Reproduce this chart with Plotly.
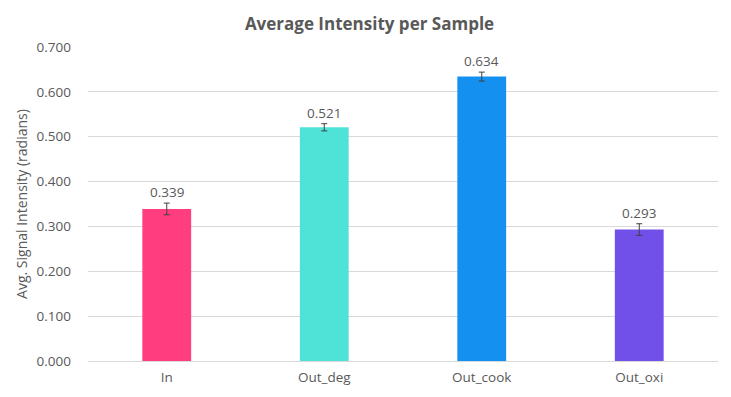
import plotly.graph_objects as go

categories = ["In", "Out_deg", "Out_cook", "Out_oxi"]
values = [0.339, 0.521, 0.634, 0.293]
errors = [0.013, 0.008, 0.010, 0.013]
colors = ["#FF3D7F", "#4FE3D8", "#1390F0", "#7050E8"]
tick_vals = [0, 0.1, 0.2, 0.3, 0.4, 0.5, 0.6, 0.7]
tick_text = ["0.000", "0.100", "0.200", "0.300", "0.400", "0.500", "0.600", "0.700"]

grey = "#595959"
font_family = "Open Sans, Noto Sans, sans-serif"

fig = go.Figure()
fig.add_trace(go.Bar(
    x=categories, y=values,
    marker=dict(color=colors, line=dict(width=0)),
    error_y=dict(type="data", array=errors, visible=True, color="#404040", thickness=1, width=3),
    hoverinfo="x+y",
))

for c, v, e in zip(categories, values, errors):
    fig.add_annotation(x=c, y=v + e, text=f"{v:.3f}", showarrow=False,
                       yanchor="bottom", yshift=0,
                       font=dict(size=13.5, color=grey, family=font_family))

# page has an 8px body margin, so figure is sized to fit the 731x397 window
fig.update_layout(
    width=723, height=389,
    margin=dict(l=80, r=13, t=39, b=36),
    paper_bgcolor="white", plot_bgcolor="white",
    bargap=0.69,
    showlegend=False,
    title=dict(text="<b>Average Intensity per Sample</b>", x=0.5, xanchor="center",
               y=0.96, yanchor="middle",
               font=dict(size=17, color=grey, family=font_family)),
    font=dict(family=font_family, color=grey, size=13.5),
    xaxis=dict(showgrid=False, showline=True, linecolor="#d9d9d9", linewidth=1,
               ticks="", tickfont=dict(size=13.5, color=grey), automargin=False,
               ticklabelstandoff=4),
    yaxis=dict(range=[0, 0.7], tickvals=tick_vals, ticktext=tick_text,
               showgrid=True, gridcolor="#d9d9d9", gridwidth=1, zeroline=False,
               showline=False, ticks="", ticklen=0, ticklabelstandoff=16,
               tickfont=dict(size=13.5, color=grey), automargin=False,
               title=dict(text="Avg. Signal Intensity (radians)", standoff=5,
                          font=dict(size=14, color=grey))),
)

fig.write_html("out.html")
